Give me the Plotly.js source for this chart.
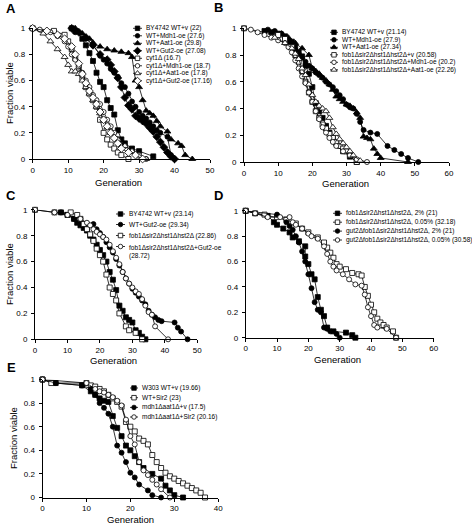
<!DOCTYPE html>
<html><head><meta charset="utf-8">
<script src="https://cdn.plot.ly/plotly-3.0.1.min.js"></script>
<style>html,body{margin:0;padding:0;background:#fff}#chart{width:472px;height:524px}</style>
</head><body><div id="chart"></div>
<script>
// ---------------- DATA ----------------
// Panel A
const aWTvX   = [11,12,14,15,16,17,18,19,20,21,22,23,24,25,26,28,30,34];
const aWTvY   = [1,0.98,0.92,0.87,0.81,0.75,0.66,0.59,0.55,0.45,0.39,0.34,0.22,0.15,0.12,0.08,0.06,0.02];
const aMdhX   = [12,15,17,19,20,21,22,23,24,25,26,27,28,29,30,31,32,33,34,35,36,38,39,40];
const aMdhY   = [0.97,0.92,0.87,0.79,0.76,0.73,0.69,0.66,0.63,0.58,0.55,0.5,0.44,0.4,0.36,0.33,0.31,0.28,0.25,0.22,0.2,0.17,0.03,0];
const aAatX   = [12,14,16,17,19,21,23,25,27,28,29,30,31,32,33,34,35,36,38,39,41,42,43,45];
const aAatY   = [1,0.96,0.92,0.89,0.86,0.84,0.83,0.82,0.81,0.78,0.6,0.55,0.45,0.37,0.35,0.33,0.29,0.25,0.21,0.15,0.12,0.1,0.03,0];
const aGutX   = [11,13,15,17,19,21,22,23,24,25,26,27,28,29,30,31,32,33,34,35,36,37,38,39,40];
const aGutY   = [1,0.97,0.93,0.87,0.8,0.76,0.72,0.67,0.62,0.55,0.47,0.41,0.38,0.33,0.31,0.29,0.27,0.24,0.21,0.17,0.13,0.09,0.05,0.02,0];
const aCytX   = [0,6,9,10,11,12,13,14,15,16,17,18,19,20,21,22,23,24,25,27];
const aCytY   = [1,0.98,0.95,0.9,0.84,0.77,0.7,0.62,0.55,0.5,0.45,0.4,0.3,0.2,0.15,0.11,0.08,0.05,0.03,0];
const aCytMdhX= [0,2,5,7,9,10,11,12,13,14,15,16,17,18,19,20,21,22,23,24,26,28,30,32];
const aCytMdhY= [1,0.99,0.97,0.94,0.9,0.86,0.8,0.76,0.71,0.66,0.6,0.55,0.49,0.45,0.42,0.36,0.3,0.25,0.2,0.15,0.1,0.06,0.03,0];
const aCytAatX= [0,3,5,7,9,10,11,12,13,14,15,16,17,18,19,20,21,22,24,26,28,30,32];
const aCytAatY= [1,0.96,0.9,0.84,0.78,0.72,0.67,0.67,0.65,0.6,0.55,0.5,0.45,0.4,0.35,0.3,0.24,0.2,0.15,0.1,0.06,0.02,0];
const aCytGutX= [0,4,7,9,11,12,13,14,15,16,17,18,19,20,21,22,23,24,25,27,29,31];
const aCytGutY= [1,0.98,0.95,0.92,0.86,0.8,0.73,0.65,0.58,0.52,0.47,0.42,0.36,0.3,0.25,0.2,0.16,0.12,0.08,0.05,0.03,0];
const aNames = ["BY4742 WT+v (22)","WT+Mdh1-oe (27.6)","WT+Aat1-oe (29.8)","WT+Gut2-oe (27.08)",
  "cyt1\u0394 (16.7)","cyt1\u0394+Mdh1-oe (18.7)","cyt1\u0394+Aat1-oe (17.8)","cyt1\u0394+Gut2-oe (17.16)"];

// Panel B
const bWTvX  = [6,8,10,12,14,15,16,17,18,19,20,21,22,23,24,25,26,27,29,31,33];
const bWTvY  = [0.98,0.97,0.96,0.94,0.9,0.86,0.82,0.79,0.72,0.66,0.56,0.44,0.38,0.33,0.27,0.22,0.18,0.14,0.08,0.04,0];
const bMdhX  = [7,9,11,12,13,14,15,16,17,18,19,20,21,22,23,24,25,26,27,28,29,30,31,32,33,34,35,37,39,42,44,46,48,51];
const bMdhY  = [0.99,0.98,0.96,0.93,0.9,0.87,0.84,0.81,0.78,0.75,0.72,0.7,0.67,0.65,0.63,0.6,0.58,0.56,0.53,0.5,0.47,0.43,0.41,0.4,0.36,0.3,0.24,0.22,0.21,0.12,0.09,0.06,0.03,0];
const bAatX  = [11,13,15,17,19,20,21,22,23,24,25,26,27,28,29,30,31,32,33,34,35,36,37,38,39,40,48];
const bAatY  = [0.96,0.93,0.89,0.85,0.8,0.7,0.68,0.66,0.63,0.61,0.58,0.54,0.49,0.47,0.45,0.43,0.42,0.4,0.37,0.33,0.19,0.18,0.17,0.1,0.06,0.03,0];
const bFobX  = [0,10,12,14,15,16,17,18,19,20,21,22,23,24,25,26,27,28,29,30,31,33];
const bFobY  = [1,0.95,0.92,0.86,0.8,0.75,0.68,0.6,0.52,0.45,0.38,0.33,0.28,0.25,0.21,0.18,0.15,0.12,0.1,0.08,0.05,0];
const bFobMdhX = [0,2,4,6,8,10,12,13,14,15,16,17,18,19,20,21,22,23,24,25,26,27,29,31,33,36];
const bFobMdhY = [1,0.99,0.97,0.95,0.93,0.91,0.89,0.86,0.82,0.76,0.7,0.64,0.59,0.52,0.45,0.38,0.32,0.26,0.22,0.18,0.15,0.12,0.08,0.05,0.02,0];
const bFobAatX = [9,12,14,15,16,17,18,19,20,21,22,23,24,25,26,27,28,29,30,31,32,34];
const bFobAatY = [0.93,0.89,0.85,0.81,0.77,0.7,0.65,0.58,0.5,0.45,0.42,0.4,0.38,0.33,0.26,0.21,0.17,0.14,0.11,0.08,0.05,0.01];
const bNames = ["BY4742 WT+v (21.14)","WT+Mdh1-oe (27.9)","WT+Aat1-oe (27.34)",
  "fob1\u0394sir2\u0394hst1\u0394hst2\u0394+v (20.58)","fob1\u0394sir2\u0394hst1\u0394hst2\u0394+Mdh1-oe (20.2)",
  "fob1\u0394sir2\u0394hst1\u0394hst2\u0394+Aat1-oe (22.26)"];

// Panel C
const cWTvX = [8,10,12,13,14,15,16,17,18,19,20,21,22,23,24,25,26,27,28,29,30,31,32,33,34];
const cWTvY = [0.98,0.96,0.93,0.9,0.88,0.86,0.84,0.8,0.77,0.73,0.69,0.65,0.6,0.52,0.46,0.38,0.26,0.22,0.17,0.15,0.13,0.07,0.05,0.02,0];
const cGutX = [8,10,12,14,16,18,19,20,21,22,23,24,25,26,27,28,29,30,31,32,33,34,35,36,37,38,39,43,44,45,47];
const cGutY = [0.98,0.96,0.93,0.9,0.89,0.89,0.85,0.82,0.79,0.75,0.71,0.67,0.62,0.57,0.52,0.47,0.43,0.39,0.36,0.33,0.3,0.27,0.22,0.19,0.17,0.15,0.14,0.13,0.09,0.06,0];
const cFobX = [0,6,11,13,14,15,16,17,18,19,20,21,22,23,24,25,26,28,29,31,33];
const cFobY = [1,0.98,0.98,0.96,0.93,0.89,0.85,0.81,0.76,0.7,0.65,0.6,0.5,0.4,0.35,0.3,0.2,0.1,0.07,0.05,0];
const cFobGutX = [0,6,10,14,16,17,18,19,20,21,22,23,24,25,26,27,28,29,30,31,32,33,34,35,36,37,41];
const cFobGutY = [1,0.98,0.96,0.93,0.9,0.88,0.85,0.83,0.81,0.79,0.77,0.73,0.68,0.63,0.58,0.52,0.47,0.43,0.4,0.37,0.35,0.31,0.26,0.21,0.19,0.1,0];
const cNames = ["BY4742 WT+v (23.14)","WT+Gut2-oe (29.34)","fob1\u0394sir2\u0394hst1\u0394hst2\u0394 (22.86)",
  "fob1\u0394sir2\u0394hst1\u0394hst2\u0394+Gut2-oe<br>(28.72)"];

// Panel D
const dF2X  = [0,3,7,9,10,12,14,15,17,19,19,20,21,22,23,24,25,26,28,32,34,35];
const dF2Y  = [1,0.98,0.96,0.91,0.89,0.86,0.83,0.79,0.76,0.72,0.64,0.58,0.5,0.46,0.32,0.22,0.17,0.08,0.05,0.04,0.02,0];
const dF005X= [0,6,10,13,16,18,20,23,25,26,27,28,29,30,32,34,36,37,38,39,40,41,42,43,44,45,47,48];
const dF005Y= [1,0.97,0.95,0.93,0.9,0.86,0.83,0.79,0.75,0.71,0.67,0.63,0.58,0.56,0.54,0.51,0.5,0.49,0.4,0.33,0.26,0.2,0.15,0.12,0.1,0.08,0.05,0];
const dG2X  = [0,10,13,14,15,16,17,18,19,20,21,22,23,24,25,26,27,29,30];
const dG2Y  = [1,0.97,0.91,0.88,0.85,0.8,0.75,0.68,0.6,0.5,0.39,0.28,0.22,0.2,0.08,0.07,0.05,0.03,0];
const dG005X= [0,3,7,11,14,15,16,18,20,21,23,25,26,27,28,29,31,33,35,37,38,39,40,41,42,45,48];
const dG005Y= [1,0.98,0.95,0.95,0.95,0.91,0.89,0.86,0.82,0.8,0.78,0.72,0.66,0.6,0.56,0.53,0.5,0.46,0.42,0.41,0.34,0.24,0.17,0.1,0.08,0.07,0];
const dNames = ["fob1\u0394sir2\u0394hst1\u0394hst2\u0394, 2% (21)","fob1\u0394sir2\u0394hst1\u0394hst2\u0394, 0.05% (32.18)",
  "gut2\u0394fob1\u0394sir2\u0394hst1\u0394hst2\u0394, 2% (21)","gut2\u0394fob1\u0394sir2\u0394hst1\u0394hst2\u0394, 0.05% (30.58)"];

// Panel E
const eWTvX = [0,3,9,11,12,13,14,15,16,17,18,19,20,21,22,23,25,27,28,29,30,32];
const eWTvY = [1,0.97,0.95,0.9,0.87,0.84,0.82,0.81,0.69,0.59,0.52,0.44,0.4,0.35,0.3,0.25,0.2,0.16,0.1,0.06,0.02,0];
const eSirX = [0,2,10,11,12,13,14,15,16,17,18,19,20,21,22,23,24,25,26,27,28,29,30,31,32,33,34,35,36,37];
const eSirY = [1,0.97,0.97,0.95,0.94,0.92,0.9,0.87,0.84,0.81,0.77,0.64,0.6,0.56,0.5,0.48,0.45,0.36,0.3,0.25,0.21,0.18,0.16,0.14,0.12,0.1,0.08,0.06,0.04,0];
const eMaX  = [0,3,9,11,12,13,14,15,16,17,18,19,20,21,22,24,25,27];
const eMaY  = [1,0.97,0.95,0.92,0.87,0.8,0.76,0.71,0.6,0.44,0.38,0.3,0.21,0.17,0.11,0.06,0.02,0];
const eMaSirX = [0,10,12,13,14,15,16,17,18,19,20,21,22,23,24,25,26,27,29];
const eMaSirY = [1,0.97,0.92,0.9,0.89,0.87,0.85,0.82,0.78,0.66,0.52,0.45,0.3,0.23,0.19,0.15,0.11,0.07,0];
const eNames = ["W303 WT+v (19.66)","WT+Sir2 (23)","mdh1\u0394aat1\u0394+v (17.5)","mdh1\u0394aat1\u0394+Sir2 (20.16)"];

const yTicks = [0,0.2,0.4,0.6,0.8,1];
const yTickText = ["0","0.2","0.4","0.6","0.8","1"];

// ---------------- LAYOUT / STYLE ----------------
const W = 472, H = 524;
const FONT = "Liberation Sans, Arial, Helvetica, sans-serif";
const SYM = {sq:"square", ci:"circle", tr:"triangle-up", di:"diamond"};
const MSIZE = {sq:5, ci:5, tr:6, di:6};
const LEGFONT = 6.5, TITLEFONT = 9.5;

// panel geometry in pixels: x0,x1 = axis ends; yb = pixel of 0, yt = pixel of 1
const panels = [
  {key:"A", xa:"x",  ya:"y",  x0:32.7, x1:210,   yb:159,   yt:28.3,  xmax:50,
   series:[[aWTvX,aWTvY,"sq",1],[aMdhX,aMdhY,"ci",1],[aAatX,aAatY,"tr",1],[aGutX,aGutY,"di",1],
           [aCytX,aCytY,"sq",0],[aCytMdhX,aCytMdhY,"ci",0],[aCytAatX,aCytAatY,"tr",0],[aCytGutX,aCytGutY,"di",0]],
   names:aNames, legRows:[28.3,35.8,43.3,50.8,58.3,65.8,73.3,80.8], legX:[133,142], legT:143.5,
   letter:[11,8], ytitle:[9,93], xtitle:[118,182]},
  {key:"B", xa:"x2", ya:"y2", x0:244,  x1:449,   yb:162,   yt:28.3,  xmax:60,
   series:[[bWTvX,bWTvY,"sq",1],[bMdhX,bMdhY,"ci",1],[bAatX,bAatY,"tr",1],
           [bFobX,bFobY,"sq",0],[bFobMdhX,bFobMdhY,"ci",0],[bFobAatX,bFobAatY,"tr",0]],
   names:bNames, legRows:[32.3,39.8,47.3,54.8,62.3,69.8], legX:[330,338], legT:339.5,
   letter:[218,7], ytitle:null, xtitle:[345,183.5]},
  {key:"C", xa:"x3", ya:"y3", x0:35,   x1:197.3, yb:339.3, yt:209.8, xmax:50,
   series:[[cWTvX,cWTvY,"sq",1],[cGutX,cGutY,"ci",1],[cFobX,cFobY,"sq",0],[cFobGutX,cFobGutY,"ci",0]],
   names:cNames, legRows:[214,224.5,235.5,246.5], legX:[116,125], legT:126.5,
   letter:[11,195], ytitle:[9,274], xtitle:[113,360]},
  {key:"D", xa:"x4", ya:"y4", x0:245.7,x1:433.7, yb:337.7, yt:210.8, xmax:60,
   series:[[dF2X,dF2Y,"sq",1],[dF005X,dF005Y,"sq",0],[dG2X,dG2Y,"ci",1],[dG005X,dG005Y,"ci",0]],
   names:dNames, legRows:[213.3,222.2,231.1,240], legX:[333,342], legT:343.5,
   letter:[218,195], ytitle:null, xtitle:[337,359]},
  {key:"E", xa:"x5", ya:"y5", x0:42.5, x1:218.2, yb:497.5, yt:379.5, xmax:40,
   series:[[eWTvX,eWTvY,"sq",1],[eSirX,eSirY,"sq",0],[eMaX,eMaY,"ci",1],[eMaSirX,eMaSirY,"ci",0]],
   names:eNames, legRows:[388,397.7,407.4,417], legX:[130,138], legT:140,
   letter:[11,367], ytitle:[13,438], xtitle:[130,519.5]}
];

const traces = [];
const annotations = [];
const layout = {
  width: W, height: H, autosize:false,
  margin:{l:0,r:0,t:0,b:0,pad:0},
  paper_bgcolor:"#fff", plot_bgcolor:"rgba(0,0,0,0)",
  showlegend:false,
  font:{family:FONT, size:8, color:"#000"},
  xaxis6:{domain:[0,1], range:[0,W], visible:false, fixedrange:true, anchor:"y6"},
  yaxis6:{domain:[0,1], range:[H,0], visible:false, fixedrange:true, anchor:"x6"}
};

function axisCommon(){
  return {showline:true, linecolor:"#000", linewidth:1, ticks:"outside", ticklen:3, tickwidth:1,
          tickcolor:"#000", showgrid:false, zeroline:false, fixedrange:true,
          tickfont:{family:FONT, size:8, color:"#000"}};
}

panels.forEach((p) => {
  const xn = p.xa === "x" ? "xaxis" : "xaxis" + p.xa.slice(1);
  const yn = p.ya === "y" ? "yaxis" : "yaxis" + p.ya.slice(1);
  layout[xn] = Object.assign(axisCommon(), {domain:[p.x0/W, p.x1/W], range:[0,p.xmax], dtick:10, tick0:0, anchor:p.ya, ticklabelstandoff:0});
  layout[yn] = Object.assign(axisCommon(), {domain:[1-p.yb/H, 1-p.yt/H], range:[0,1], tickvals:yTicks, ticktext:yTickText, anchor:p.xa, ticklabelstandoff:2});

  p.series.forEach((s, si) => {
    const [xs, ys, sym, filled] = s;
    traces.push({
      type:"scatter", mode:"lines+markers", x:xs, y:ys, xaxis:p.xa, yaxis:p.ya,
      cliponaxis:false, hoverinfo:"skip",
      line:{color:"#000", width:0.8},
      marker:{symbol:SYM[sym], size:MSIZE[sym], color: filled ? "#000" : "#fff", line:{color:"#000", width:0.8}}
    });
    // legend sample (in pixel overlay axes)
    const ry = p.legRows[si];
    traces.push({type:"scatter", mode:"lines", x:[p.legX[0], p.legX[1]], y:[ry, ry], xaxis:"x6", yaxis:"y6",
      hoverinfo:"skip", cliponaxis:false, line:{color:"#000", width:0.8}});
    traces.push({type:"scatter", mode:"markers", x:[(p.legX[0]+p.legX[1])/2], y:[ry], xaxis:"x6", yaxis:"y6",
      hoverinfo:"skip", cliponaxis:false,
      marker:{symbol:SYM[sym], size:MSIZE[sym]-0.5, color: filled ? "#000" : "#fff", line:{color:"#000", width:0.8}}});
    const multi = p.names[si].indexOf("<br>") >= 0;
    annotations.push({xref:"x6", yref:"y6", x:p.legT, y: multi ? ry-4.3 : ry, text:p.names[si],
      xanchor:"left", yanchor: multi ? "top" : "middle", align:"left", showarrow:false,
      font:{family:FONT, size:LEGFONT, color:"#000"}});
  });

  annotations.push({xref:"x6", yref:"y6", x:p.letter[0], y:p.letter[1], text:"<b>"+p.key+"</b>",
    showarrow:false, xanchor:"center", yanchor:"middle", font:{family:FONT, size:13, color:"#000"}});
  if (p.ytitle) annotations.push({xref:"x6", yref:"y6", x:p.ytitle[0], y:p.ytitle[1], text:"Fraction viable",
    textangle:-90, showarrow:false, xanchor:"center", yanchor:"middle", font:{family:FONT, size:TITLEFONT, color:"#000"}});
  annotations.push({xref:"x6", yref:"y6", x:p.xtitle[0], y:p.xtitle[1], text:"Generation",
    showarrow:false, xanchor:"center", yanchor:"middle", borderpad:0, font:{family:FONT, size:TITLEFONT, color:"#000"}});
});

layout.annotations = annotations;
Plotly.newPlot("chart", traces, layout, {staticPlot:true, displayModeBar:false});
</script>
</body></html>
